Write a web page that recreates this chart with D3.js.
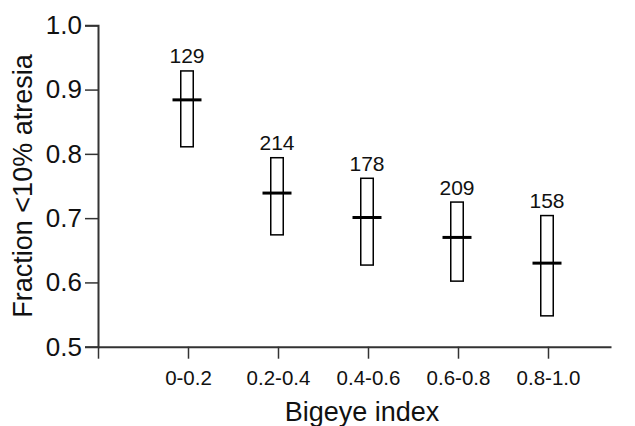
<!DOCTYPE html>
<html><head><meta charset="utf-8">
<script src="https://cdn.jsdelivr.net/npm/d3@7"></script>
<style>html,body{margin:0;padding:0;background:#fff;} svg{display:block;font-family:"Liberation Sans",Arial,sans-serif;}</style>
</head><body>
<script>
const categories = ["0-0.2","0.2-0.4","0.4-0.6","0.6-0.8","0.8-1.0"];
const medians = [0.884, 0.739, 0.701, 0.670, 0.630];
const upper = [0.929, 0.794, 0.762, 0.725, 0.704];
const lower = [0.811, 0.674, 0.627, 0.602, 0.548];
const counts = [129, 214, 178, 209, 158];
const yTicks = [0.5, 0.6, 0.7, 0.8, 0.9, 1.0];

const W = 635, H = 426;
const svg = d3.select("body").append("svg").attr("width", W).attr("height", H);

const x = d3.scaleLinear().domain([0, 5.7]).range([98, 611]);
const y = d3.scaleLinear().domain([0.5, 1.0]).range([346.7, 25.3]);
const axisColor = "#333";

// y axis
const yAxis = svg.append("g").attr("transform", "translate(98,0)")
  .call(d3.axisLeft(y).tickValues(yTicks).tickFormat(d3.format(".1f")).tickSize(13).tickPadding(3));
yAxis.select(".domain").attr("stroke", axisColor).attr("stroke-width", 2);
yAxis.selectAll(".tick line").attr("stroke", axisColor).attr("stroke-width", 1.5);
yAxis.selectAll(".tick text").attr("font-size", 26).attr("fill", "#111").attr("font-family", "Liberation Sans, Arial, sans-serif");

// x axis
const xAxis = svg.append("g").attr("transform", `translate(0,${y(0.5)})`)
  .call(d3.axisBottom(x).tickValues([0,1,2,3,4,5]).tickFormat(d => d === 0 ? "" : categories[d-1]).tickSize(12).tickSizeOuter(0).tickPadding(12));
xAxis.select(".domain").attr("stroke", axisColor).attr("stroke-width", 2);
xAxis.selectAll(".tick line").attr("stroke", axisColor).attr("stroke-width", 1.5);
xAxis.selectAll(".tick text").attr("font-size", 20.5).attr("fill", "#111").attr("font-family", "Liberation Sans, Arial, sans-serif");

// boxes
const g = svg.append("g");
const bw = 12.5, mw = 29;
categories.forEach((c, i) => {
  const cx = x(i + 1) - 1;
  g.append("rect").attr("x", cx - bw/2).attr("y", y(upper[i]))
    .attr("width", bw).attr("height", y(lower[i]) - y(upper[i]))
    .attr("fill", "none").attr("stroke", "#000").attr("stroke-width", 1.5);
  g.append("line").attr("x1", cx - mw/2).attr("x2", cx + mw/2)
    .attr("y1", y(medians[i])).attr("y2", y(medians[i]))
    .attr("stroke", "#000").attr("stroke-width", 3);
  g.append("text").attr("x", cx).attr("y", y(upper[i]) - 7.5)
    .attr("text-anchor", "middle").attr("font-size", 21).attr("fill", "#111")
    .text(counts[i]);
});

// axis titles
svg.append("text").attr("x", 362).attr("y", 421).attr("text-anchor", "middle")
  .attr("font-size", 27).attr("fill", "#111").text("Bigeye index");
svg.append("text").attr("transform", "translate(32,186) rotate(-90)").attr("text-anchor", "middle")
  .attr("font-size", 27).attr("fill", "#111").text("Fraction <10% atresia");
</script>
</body></html>
